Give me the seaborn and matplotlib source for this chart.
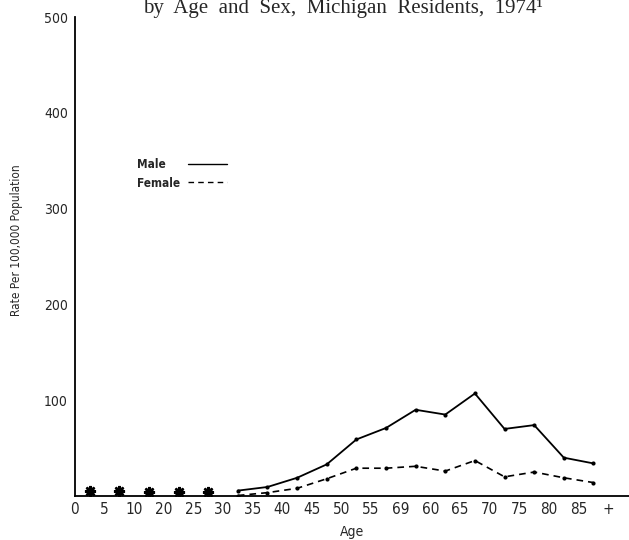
import matplotlib
matplotlib.use('Agg')
import matplotlib.pyplot as plt
import seaborn as sns
import pandas as pd

# age group boundaries as printed on the axis (typos kept as in the original)
tick_labels = ['0', '5', '10', '20', '25', '30', '35', '40', '45', '50',
               '55', '69', '60', '65', '70', '75', '80', '85', '+']

# groups 0-29: rates too small to show, marked with asterisks
star_pos = [0.5, 1.5, 2.5, 3.5, 4.5]
star_vals = [5.2, 5.2, 4.5, 4.5, 3.8]

# groups 30-34 ... 85+
line_pos = [5.5, 6.5, 7.5, 8.5, 9.5, 10.5, 11.5, 12.5, 13.5, 14.5, 15.5, 16.5, 17.5]
male = [5.6, 9.4, 19, 33, 59, 71, 90, 85, 107, 70, 74, 40, 34]
female = [0.5, 3.5, 8, 18, 29, 29, 31, 26, 37, 20, 25, 19, 14]

sns.set_theme(style='white')
plt.rcParams['font.family'] = ['DejaVu Sans']
plt.rcParams['font.stretch'] = 'condensed'
plt.rcParams['axes.unicode_minus'] = False

df_m = pd.DataFrame({'pos': line_pos, 'rate': male})
df_f = pd.DataFrame({'pos': line_pos, 'rate': female})
df_s = pd.DataFrame({'pos': star_pos, 'rate': star_vals})

fig = plt.figure(figsize=(6.29, 5.40), dpi=100)
ax = fig.add_axes([0.119, 0.0815, 0.881, 0.887])

sns.lineplot(data=df_m, x='pos', y='rate', ax=ax, color='black', linewidth=1.3,
             marker='o', markersize=3, markeredgewidth=0, label='Male    ')
sns.lineplot(data=df_f, x='pos', y='rate', ax=ax, color='black', linewidth=1.2,
             linestyle=(0, (4, 3)), marker='o', markersize=3, markeredgewidth=0,
             label='Female')
sns.lineplot(data=df_s, x='pos', y='rate', ax=ax, color='black', linestyle='none',
             marker=(8, 2, 0), markersize=8, markeredgewidth=1.8,
             markeredgecolor='black', legend=False)

ax.set_xlim(0, 18.7)
ax.set_ylim(0, 500)
ax.set_xticks(range(len(tick_labels)))
ax.set_xticklabels(tick_labels, fontsize=11)
ax.set_yticks([100, 200, 300, 400, 500])
ax.set_yticklabels(['100', '200', '300', '400', '500'], fontsize=10)
ax.tick_params(axis='x', length=0, pad=4)
ax.tick_params(axis='y', length=0, pad=5)

for side in ['top', 'right']:
    ax.spines[side].set_visible(False)
for side in ['left', 'bottom']:
    ax.spines[side].set_color('black')
    ax.spines[side].set_linewidth(1.3)

ax.set_xlabel('Age', fontsize=10, labelpad=6)
ax.set_ylabel('Rate Per 100,000 Population', fontsize=8.5)
ax.yaxis.set_label_coords(-0.094, 0.534)

leg = ax.legend(loc='upper left', bbox_to_anchor=(0.112, 0.705), frameon=False,
                markerfirst=False, handlelength=3.3, handletextpad=0.7,
                labelspacing=0.45, borderaxespad=0, borderpad=0,
                prop={'size': 8.5, 'weight': 'bold', 'stretch': 'condensed'})
for line in leg.get_lines():
    line.set_marker('')
    line.set_linewidth(1.0)

fig.text(0.545, 1 - 13 / 540, 'by  Age  and  Sex,  Michigan  Residents,  1974\u00b9',
         ha='center', va='baseline', fontsize=15, family='Liberation Serif')

fig.savefig('out.png', dpi=100)
